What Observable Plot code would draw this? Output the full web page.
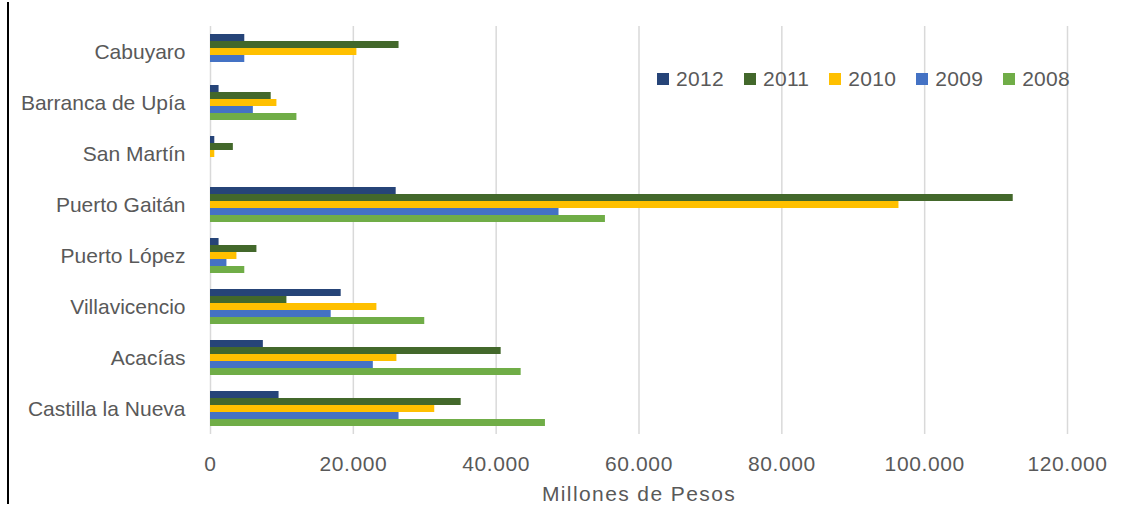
<!DOCTYPE html>
<html>
<head>
<meta charset="utf-8">
<script src="https://cdn.jsdelivr.net/npm/d3@7"></script>
<script src="https://cdn.jsdelivr.net/npm/@observablehq/plot@0.6"></script>
<style>
  html, body { margin: 0; padding: 0; background: #fff; }
  #wrap { position: relative; width: 1128px; height: 510px; overflow: hidden; background: #fff; font-family: "Liberation Sans", Arial, sans-serif; }
  #edge { position: absolute; left: 7px; top: 2px; width: 2px; height: 502px; background: #000; }
  #legend { position: absolute; left: 657px; top: 62px; }
  .lg-swatch > svg { margin-right: 7px !important; }
  .lg-swatch { margin-right: 20px !important; letter-spacing: 0.3px; }
  #chart svg g[aria-label="x-axis label"] text { letter-spacing: 1.4px; }
  #chart svg g[aria-label="x-axis tick label"] text { letter-spacing: 0.6px; }
</style>
</head>
<body>
<div id="wrap"><div id="edge"></div><div id="chart"></div><div id="legend"></div></div>
<script>
const municipios = ["Cabuyaro", "Barranca de Upía", "San Martín", "Puerto Gaitán", "Puerto López", "Villavicencio", "Acacías", "Castilla la Nueva"];
const years = ["2012", "2011", "2010", "2009", "2008"];
const colors = ["#264478", "#43682B", "#FFC000", "#4472C4", "#70AD47"];
const v2012 = [4800, 1200, 600, 26000, 1200, 18300, 7400, 9600];
const v2011 = [26400, 8500, 3200, 112400, 6500, 10700, 40700, 35100];
const v2010 = [20500, 9300, 600, 96400, 3700, 23300, 26100, 31400];
const v2009 = [4800, 6000, 0, 48800, 2300, 16900, 22800, 26400];
const v2008 = [0, 12100, 0, 55300, 4800, 30000, 43500, 46900];
const xTicks = [0, 20000, 40000, 60000, 80000, 100000, 120000];

const series = {"2012": v2012, "2011": v2011, "2010": v2010, "2009": v2009, "2008": v2008};
const data = [];
municipios.forEach((m, i) => years.forEach(y => data.push({municipio: m, year: y, value: series[y][i]})));

const fmt = d3.formatLocale({decimal: ",", thousands: ".", grouping: [3], currency: ["", ""]}).format(",");

const chart = Plot.plot({
  width: 1128,
  height: 510,
  marginTop: 25,
  marginBottom: 75,
  marginLeft: 210,
  marginRight: 61,
  style: {fontFamily: "'Liberation Sans', Arial, sans-serif", fontSize: "21px", color: "#595959", background: "transparent"},
  fy: {domain: municipios, padding: 0, label: null, tickSize: 0, tickPadding: 25},
  y: {domain: years, axis: null, paddingInner: 0, paddingOuter: 0.703},
  x: {domain: [0, 120000], ticks: xTicks, tickFormat: fmt, tickSize: 0, tickPadding: 22, grid: false, label: "Millones de Pesos", labelArrow: "none", labelAnchor: "center", labelOffset: 66},
  color: {domain: years, range: colors},
  marks: [
    Plot.gridX(xTicks, {stroke: "#d9d9d9", strokeOpacity: 1, strokeWidth: 1.5}),
    Plot.barX(data, {fy: "municipio", y: "year", x: "value", fill: "year"})
  ]
});
document.getElementById("chart").appendChild(chart);

const lg = Plot.legend({color: {domain: years, range: colors}, legend: "swatches", swatchSize: 12, className: "lg",
  style: {fontFamily: "'Liberation Sans', Arial, sans-serif", fontSize: "21px", color: "#595959"}});
document.getElementById("legend").appendChild(lg);
</script>
</body>
</html>
